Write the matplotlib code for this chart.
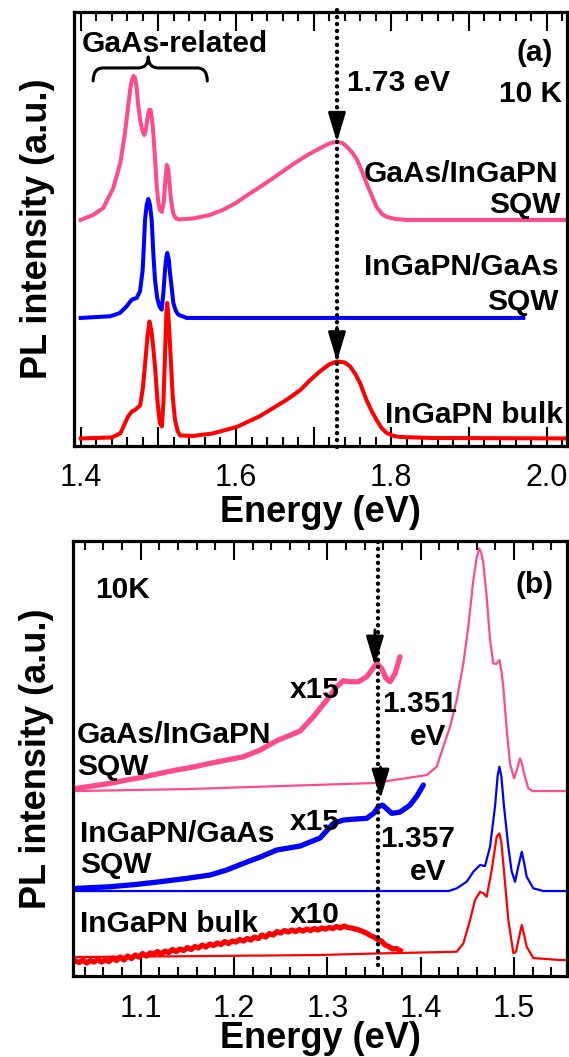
import matplotlib
matplotlib.use("Agg")
import matplotlib.pyplot as plt
from matplotlib.path import Path
from matplotlib.patches import PathPatch
from matplotlib.ticker import MultipleLocator, FuncFormatter

plt.rcParams['font.family'] = ['Liberation Sans', 'DejaVu Sans']

PINK = '#ff4a8d'
BLUE = '#0000ff'
RED = '#ff0000'

# ---------------- (a) 10 K spectra, stacked ----------------
a_pink_off = 2.26
a_pink_e = [1.400, 1.416, 1.429, 1.442, 1.451, 1.457, 1.461, 1.464, 1.466, 1.468,
            1.470, 1.472, 1.474, 1.477, 1.480, 1.482, 1.484, 1.486, 1.488, 1.490,
            1.492, 1.4935, 1.496, 1.498, 1.500, 1.502, 1.5045, 1.507, 1.509, 1.511,
            1.5125, 1.514, 1.516, 1.519, 1.522, 1.526, 1.545, 1.5665, 1.583, 1.600,
            1.615, 1.631, 1.650, 1.674, 1.690, 1.704, 1.715, 1.722, 1.729, 1.737,
            1.743, 1.750, 1.756, 1.762, 1.768, 1.775, 1.781, 1.788, 1.794, 1.805,
            1.820, 2.026]
a_pink_i = [0.00, 0.05, 0.12, 0.32, 0.57, 0.87, 1.13, 1.32, 1.40, 1.44,
            1.42, 1.33, 1.15, 0.98, 0.88, 0.85, 0.90, 1.02, 1.10, 1.10,
            1.00, 0.87, 0.58, 0.33, 0.18, 0.10, 0.08, 0.18, 0.40, 0.55,
            0.52, 0.40, 0.22, 0.07, 0.02, 0.005, 0.015, 0.05, 0.10, 0.17,
            0.25, 0.33, 0.43, 0.56, 0.64, 0.70, 0.745, 0.77, 0.78, 0.77,
            0.73, 0.67, 0.60, 0.49, 0.37, 0.24, 0.13, 0.06, 0.03, 0.01,
            0.00, 0.00]

a_blue_off = 1.28
a_blue_e = [1.400, 1.438, 1.4506, 1.4592, 1.4657, 1.4721, 1.4764, 1.4798, 1.4815, 1.4828,
            1.4850, 1.4871, 1.4892, 1.4914, 1.4935, 1.4957, 1.4985, 1.5013, 1.5043, 1.5065,
            1.5086, 1.5105, 1.5115, 1.5135, 1.515, 1.5175, 1.5193, 1.5225, 1.5257, 1.5365,
            1.970]
a_blue_i = [0.00, 0.017, 0.05, 0.117, 0.183, 0.20, 0.267, 0.48, 0.75, 0.98,
            1.13, 1.19, 1.13, 0.98, 0.65, 0.38, 0.20, 0.117, 0.083, 0.25,
            0.483, 0.62, 0.65, 0.58, 0.45, 0.28, 0.15, 0.07, 0.033, 0.00,
            0.00]

a_red_off = 0.075
a_red_e = [1.400, 1.440, 1.451, 1.461, 1.466, 1.470, 1.4765, 1.480, 1.483, 1.486,
           1.4885, 1.491, 1.4935, 1.4957, 1.499, 1.502, 1.5045, 1.5065, 1.5086, 1.5105,
           1.5115, 1.513, 1.516, 1.5185, 1.5214, 1.525, 1.528, 1.545, 1.570, 1.601,
           1.630, 1.665, 1.683, 1.695, 1.708, 1.720, 1.730, 1.740, 1.747, 1.754,
           1.760, 1.768, 1.775, 1.781, 1.788, 1.794, 1.803, 1.811, 1.850, 2.026]
a_red_i = [0.00, 0.01, 0.05, 0.22, 0.27, 0.285, 0.33, 0.50, 0.75, 1.02,
           1.17, 1.08, 0.90, 0.72, 0.36, 0.15, 0.12, 0.35, 0.85, 1.28,
           1.355, 1.22, 0.79, 0.42, 0.185, 0.07, 0.03, 0.025, 0.05, 0.115,
           0.22, 0.385, 0.485, 0.58, 0.67, 0.74, 0.77, 0.76, 0.72, 0.64,
           0.55, 0.385, 0.27, 0.185, 0.10, 0.055, 0.025, 0.015, 0.005, 0.00]

a_peak = 1.73

# ---------------- (b) 10 K spectra, long-wavelength side magnified ----------------
b_pink_off = 1.85
b_pink_e = [1.030, 1.150, 1.250, 1.350, 1.4065, 1.4172, 1.4243, 1.4315, 1.4387, 1.4458,
            1.4511, 1.4565, 1.460, 1.4629, 1.4650, 1.4672, 1.4708, 1.4744, 1.4779, 1.481,
            1.4844, 1.4866, 1.4886, 1.4923, 1.4958, 1.5001, 1.5035, 1.5065, 1.5085, 1.5108,
            1.5154, 1.520, 1.557]
b_pink_i = [0.00, 0.02, 0.05, 0.08, 0.16, 0.243, 0.443, 0.643, 0.91, 1.277,
            1.643, 2.11, 2.33, 2.427, 2.38, 2.277, 1.943, 1.51, 1.277, 1.27,
            1.31, 1.20, 1.043, 0.61, 0.277, 0.127, 0.22, 0.327, 0.28, 0.177,
            0.027, 0.00, 0.00]
b_pink_x15_e = [1.0313, 1.048, 1.0671, 1.085, 1.103, 1.1207, 1.138, 1.156, 1.1743, 1.192,
                1.210, 1.228, 1.2457, 1.258, 1.2707, 1.285, 1.2994, 1.310, 1.3172, 1.3243,
                1.3333, 1.3422, 1.3476, 1.3529, 1.3583, 1.3629, 1.3672, 1.3726, 1.3779]
b_pink_x15_i = [0.027, 0.05, 0.077, 0.11, 0.14, 0.177, 0.21, 0.24, 0.277, 0.31,
                0.343, 0.41, 0.503, 0.55, 0.60, 0.743, 0.91, 1.043, 1.103, 1.093,
                1.093, 1.143, 1.21, 1.277, 1.227, 1.127, 1.093, 1.177, 1.343]

b_blue_off = 0.85
b_blue_e = [1.030, 1.430, 1.4387, 1.4494, 1.4565, 1.4637, 1.469, 1.4744, 1.4797, 1.4825,
            1.4844, 1.4865, 1.4894, 1.494, 1.4975, 1.5012, 1.5048, 1.5084, 1.5110, 1.5137,
            1.5208, 1.5315, 1.557]
b_blue_i = [0.00, 0.00, 0.027, 0.093, 0.193, 0.26, 0.25, 0.443, 0.843, 1.15,
            1.243, 1.15, 0.843, 0.443, 0.20, 0.093, 0.25, 0.393, 0.28, 0.143,
            0.027, 0.00, 0.00]
b_blue_x15_e = [1.0313, 1.0671, 1.094, 1.1207, 1.148, 1.1743, 1.192, 1.210, 1.228, 1.2457,
                1.2707, 1.2922, 1.3065, 1.3172, 1.330, 1.3422, 1.350, 1.3547, 1.359, 1.364,
                1.369, 1.378, 1.3886, 1.396, 1.4029]
b_blue_x15_i = [0.027, 0.043, 0.065, 0.093, 0.125, 0.16, 0.21, 0.277, 0.34, 0.41,
                0.45, 0.53, 0.677, 0.71, 0.72, 0.727, 0.78, 0.843, 0.86, 0.82,
                0.777, 0.79, 0.86, 0.95, 1.06]

b_red_off = 0.19
b_red_e = [1.030, 1.170, 1.290, 1.350, 1.400, 1.4387, 1.4458, 1.453, 1.4583, 1.4637,
           1.4672, 1.4708, 1.4762, 1.4815, 1.4844, 1.4865, 1.4886, 1.494, 1.4994, 1.5022,
           1.5055, 1.5084, 1.511, 1.5137, 1.5208, 1.5494, 1.557]
b_red_i = [0.00, 0.01, 0.02, 0.035, 0.045, 0.053, 0.137, 0.37, 0.57, 0.653,
           0.637, 0.603, 0.87, 1.203, 1.237, 1.15, 0.937, 0.37, 0.037, 0.053,
           0.20, 0.32, 0.22, 0.103, -0.01, -0.03, -0.03]
b_red_x10_e = [1.030, 1.034, 1.038, 1.042, 1.046, 1.050, 1.054, 1.058, 1.062, 1.066,
               1.070, 1.074, 1.078, 1.082, 1.086, 1.090, 1.094, 1.098, 1.102, 1.106,
               1.110, 1.114, 1.118, 1.122, 1.126, 1.130, 1.134, 1.138, 1.142, 1.146,
               1.150, 1.154, 1.158, 1.162, 1.166, 1.170, 1.174, 1.178, 1.182, 1.186,
               1.190, 1.194, 1.198, 1.202, 1.206, 1.210, 1.214, 1.218, 1.222, 1.226,
               1.230, 1.234, 1.238, 1.242, 1.246, 1.250, 1.254, 1.258, 1.262, 1.266,
               1.270, 1.274, 1.278, 1.282, 1.286, 1.290, 1.294, 1.298, 1.302, 1.306,
               1.310, 1.314, 1.318, 1.322, 1.326, 1.330, 1.334, 1.338, 1.342, 1.346,
               1.350, 1.354, 1.358, 1.362, 1.366, 1.370, 1.374, 1.378]
b_red_x10_i = [-0.04, -0.055, -0.03, -0.06, -0.035, -0.05, -0.025, -0.05, -0.03, -0.045,
               -0.01, -0.035, 0.00, -0.03, 0.01, -0.015, 0.02, 0.00, 0.035, 0.01,
               0.04, 0.03, 0.055, 0.03, 0.06, 0.045, 0.075, 0.055, 0.08, 0.065,
               0.095, 0.075, 0.105, 0.09, 0.12, 0.10, 0.13, 0.115, 0.14, 0.125,
               0.155, 0.135, 0.16, 0.15, 0.175, 0.16, 0.185, 0.17, 0.20, 0.185,
               0.22, 0.20, 0.235, 0.22, 0.255, 0.24, 0.265, 0.25, 0.27, 0.255,
               0.275, 0.26, 0.28, 0.265, 0.285, 0.27, 0.29, 0.28, 0.295, 0.285,
               0.305, 0.29, 0.31, 0.295, 0.29, 0.28, 0.27, 0.255, 0.24, 0.215,
               0.20, 0.175, 0.16, 0.12, 0.105, 0.08, 0.085, 0.065]

b_peak_sqw1 = 1.351
b_peak_sqw2 = 1.357


def shifted(vals, off):
    return [v + off for v in vals]


def value_at(es, vals, e):
    for k in range(len(es) - 1):
        if es[k] <= e <= es[k + 1]:
            t = (e - es[k]) / (es[k + 1] - es[k])
            return vals[k] + t * (vals[k + 1] - vals[k])
    return vals[-1]


def arrow_down(ax, x, y_tip, length):
    ax.annotate('', xy=(x, y_tip), xytext=(x, y_tip + length),
                arrowprops=dict(arrowstyle='-|>,head_length=0.9,head_width=0.27',
                                mutation_scale=20, color='k', lw=2,
                                shrinkA=0, shrinkB=0))


def style_axes(ax, xlim, label_every_other, pad):
    ax.set_xlim(*xlim)
    ax.set_yticks([])
    ax.xaxis.set_major_locator(MultipleLocator(0.1))
    ax.xaxis.set_minor_locator(MultipleLocator(0.02))
    ax.tick_params(axis='x', which='both', direction='in', top=True, bottom=True,
                   width=1.5, labelsize=22, pad=pad)
    ax.tick_params(axis='x', which='major', length=13.5)
    ax.tick_params(axis='x', which='minor', length=6.8)
    for sp in ax.spines.values():
        sp.set_linewidth(2.3)
    if label_every_other:
        ax.xaxis.set_major_formatter(FuncFormatter(
            lambda v, p: ('%.1f' % v) if round(v * 10) % 2 == 0 else ''))
    else:
        ax.xaxis.set_major_formatter(FuncFormatter(lambda v, p: '%.1f' % v))
    ax.set_xlabel('Energy (eV)', fontsize=26, fontweight='bold')
    ax.set_ylabel('PL intensity (a.u.)', fontsize=26, fontweight='bold')


fig = plt.figure(figsize=(5.69, 10.57), dpi=100)
ax_a = fig.add_axes([0.1301, 0.5781, 0.8664, 0.4106])
ax_b = fig.add_axes([0.1283, 0.0766, 0.8682, 0.4115])

# ---- panel (a) ----
ax_a.plot(a_red_e, shifted(a_red_i, a_red_off), color=RED, lw=2.9, solid_joinstyle='round')
ax_a.plot(a_blue_e, shifted(a_blue_i, a_blue_off), color=BLUE, lw=2.9, solid_joinstyle='round')
ax_a.plot(a_pink_e, shifted(a_pink_i, a_pink_off), color=PINK, lw=2.9, solid_joinstyle='round')
ax_a.set_ylim(0, 4.34)
style_axes(ax_a, (1.3914, 2.0263), True, 12.5)

# medium-length ticks at 1.5, 1.7, 1.9
for tk in ax_a.xaxis.get_major_ticks():
    v = tk.get_loc()
    if round(v * 10) % 2 == 1:
        tk.tick1line.set_markersize(10.5)
        tk.tick2line.set_markersize(10.5)

dot_style = dict(color='k', lw=3.2, linestyle=(0, (0.01, 1.55)),
                 dash_capstyle='round', clip_on=False)
ax_a.axvline(a_peak, ymin=-0.003, ymax=1.006, **dot_style)
arrow_down(ax_a, a_peak, a_pink_off + value_at(a_pink_e, a_pink_i, a_peak), 0.28)
arrow_down(ax_a, a_peak, a_red_off + value_at(a_red_e, a_red_i, a_peak), 0.34)

# curly brace over the GaAs-related lines
bx0, bx1, bxt, bdx = 1.416, 1.563, 1.487, 0.013
by_end, by_base, by_tip = 3.65, 3.78, 3.89
verts = [(bx0, by_end), (bx0, by_base), (bx0 + bdx, by_base),
         (bxt - bdx, by_base), (bxt, by_base), (bxt, by_tip),
         (bxt, by_base), (bxt + bdx, by_base),
         (bx1 - bdx, by_base), (bx1, by_base), (bx1, by_end)]
codes = [Path.MOVETO, Path.CURVE3, Path.CURVE3,
         Path.LINETO, Path.CURVE3, Path.CURVE3,
         Path.CURVE3, Path.CURVE3,
         Path.LINETO, Path.CURVE3, Path.CURVE3]
ax_a.add_patch(PathPatch(Path(verts, codes), fill=False, lw=2.2, color='k',
                         capstyle='round', joinstyle='round'))

FS = 21.5
tk_a = dict(transform=ax_a.transAxes, fontsize=FS, fontweight='bold', va='baseline')
ax_a.text(0.016, 0.907, 'GaAs-related', ha='left', **tk_a)
ax_a.text(0.972, 0.887, '(a)', ha='right', **tk_a)
ax_a.text(0.554, 0.818, '%.2f eV' % a_peak, ha='left', **tk_a)
ax_a.text(0.990, 0.7926, '10 K', ha='right', **tk_a)
ax_a.text(0.982, 0.608, 'GaAs/InGaPN', ha='right', **tk_a)
ax_a.text(0.986, 0.537, 'SQW', ha='right', **tk_a)
ax_a.text(0.982, 0.394, 'InGaPN/GaAs', ha='right', **tk_a)
ax_a.text(0.982, 0.3134, 'SQW', ha='right', **tk_a)
ax_a.text(0.9925, 0.053, 'InGaPN bulk', ha='right', **tk_a)

# ---- panel (b) ----
ax_b.plot(b_red_e, shifted(b_red_i, b_red_off), color=RED, lw=1.6)
ax_b.plot(b_red_x10_e, shifted(b_red_x10_i, b_red_off), color=RED, lw=3.8,
          solid_joinstyle='round')
ax_b.plot(b_blue_e, shifted(b_blue_i, b_blue_off), color=BLUE, lw=1.6)
ax_b.plot(b_blue_x15_e, shifted(b_blue_x15_i, b_blue_off), color=BLUE, lw=3.8,
          solid_joinstyle='round', solid_capstyle='round')
ax_b.plot(b_pink_e, shifted(b_pink_i, b_pink_off), color=PINK, lw=1.6)
ax_b.plot(b_pink_x15_e, shifted(b_pink_x15_i, b_pink_off), color=PINK, lw=3.8,
          solid_joinstyle='round', solid_capstyle='round')
ax_b.set_ylim(0, 4.35)
style_axes(ax_b, (1.0274, 1.5569), False, 13)

ax_b.axvline((b_peak_sqw1 + b_peak_sqw2) / 2, ymin=0.025, ymax=1.0, **dot_style)
arrow_down(ax_b, b_peak_sqw1,
           b_pink_off + value_at(b_pink_x15_e, b_pink_x15_i, b_peak_sqw1), 0.36)
arrow_down(ax_b, b_peak_sqw2,
           b_blue_off + value_at(b_blue_x15_e, b_blue_x15_i, b_peak_sqw2) + 0.07, 0.32)

tk_b = dict(transform=ax_b.transAxes, fontsize=FS, fontweight='bold', va='baseline')
ax_b.text(0.0445, 0.869, '10K', ha='left', **tk_b)
ax_b.text(0.972, 0.8805, '(b)', ha='right', **tk_b)
ax_b.text(0.439, 0.639, 'x15', ha='left', **tk_b)
ax_b.text(0.625, 0.6076, '%.3f' % b_peak_sqw1, ha='left', **tk_b)
ax_b.text(0.7565, 0.531, 'eV', ha='right', **tk_b)
ax_b.text(0.0075, 0.535, 'GaAs/InGaPN', ha='left', **tk_b)
ax_b.text(0.0075, 0.462, 'SQW', ha='left', **tk_b)
ax_b.text(0.439, 0.3356, 'x15', ha='left', **tk_b)
ax_b.text(0.6215, 0.2973, '%.3f' % b_peak_sqw2, ha='left', **tk_b)
ax_b.text(0.7565, 0.2207, 'eV', ha='right', **tk_b)
ax_b.text(0.0142, 0.3088, 'InGaPN/GaAs', ha='left', **tk_b)
ax_b.text(0.0142, 0.2368, 'SQW', ha='left', **tk_b)
ax_b.text(0.0142, 0.1018, 'InGaPN bulk', ha='left', **tk_b)
ax_b.text(0.439, 0.1218, 'x10', ha='left', **tk_b)

for ax in (ax_a, ax_b):
    ax.yaxis.set_label_coords(-0.038, 0.5)
ax_a.xaxis.set_label_coords(0.5, -0.112)
ax_b.xaxis.set_label_coords(0.5, -0.104)

fig.savefig('out.png', dpi=100)
